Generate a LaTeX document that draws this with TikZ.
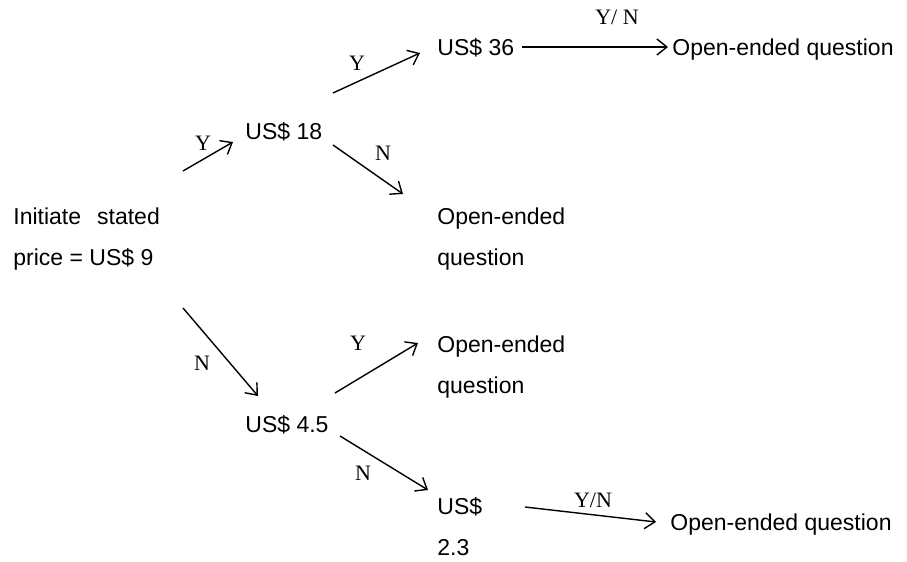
\documentclass[tikz,border=0pt]{standalone}
\usepackage{fontspec}
\setmainfont{Liberation Serif}
\setsansfont{Liberation Sans}
\usetikzlibrary{arrows.meta}

\tikzset{
    price/.style={font=\sffamily\fontsize{11.5}{20.5}\selectfont, inner sep=0pt, anchor=base west, align=left},
    answer/.style={font=\rmfamily\fontsize{11}{13}\selectfont, inner sep=0pt, anchor=base},
    arr/.style={-{Straight Barb[length=5pt,width=8pt]}, line width=0.7pt}
}

\begin{document}
\begin{tikzpicture}[x=0.5pt, y=-0.5pt]
    \useasboundingbox (0,0) rectangle (907,562);

    % Prices and open questions (two-line nodes sit on their last line)
    \node[price] (init) at (13,265) {Initiate\hspace{8pt}stated\\price = US\$ 9};
    \node[price] (us18) at (245,140) {US\$ 18};
    \node[price] (us36) at (437,55) {US\$ 36};
    \node[price] (openA) at (672,55) {Open-ended question};
    \node[price] (openB) at (437,265) {Open-ended\\question};
    \node[price] (us45) at (245,432) {US\$ 4.5};
    \node[price] (openC) at (437,393) {Open-ended\\question};
    \node[price] (us23) at (437,555) {US\$\\2.3};
    \node[price] (openD) at (670,530) {Open-ended question};

    % Arrow ends
    \coordinate (init-y) at (183,171);
    \coordinate (us18-in) at (233,142);
    \coordinate (us18-y) at (333,93);
    \coordinate (us36-in) at (420,53);
    \coordinate (us18-n) at (333,145);
    \coordinate (openB-in) at (403,194);
    \coordinate (us36-out) at (522,47);
    \coordinate (openA-in) at (668,47);
    \coordinate (init-n) at (183,308);
    \coordinate (us45-in) at (258,396);
    \coordinate (us45-y) at (335,393);
    \coordinate (openC-in) at (418,343);
    \coordinate (us45-n) at (340,436);
    \coordinate (us23-in) at (428,490);
    \coordinate (us23-out) at (525,507);
    \coordinate (openD-in) at (656,522);

    % Yes branch
    \draw[arr] (init-y) -- (us18-in);
    \draw[arr] (us18-y) -- (us36-in);
    \draw[arr] (us18-n) -- (openB-in);
    \draw[arr] (us36-out) -- (openA-in);

    % No branch
    \draw[arr] (init-n) -- (us45-in);
    \draw[arr] (us45-y) -- (openC-in);
    \draw[arr] (us45-n) -- (us23-in);
    \draw[arr] (us23-out) -- (openD-in);

    % Answers
    \node[answer] (ans1) at (203,150) {Y};
    \node[answer] (ans2) at (357,70) {Y};
    \node[answer] (ans3) at (383,160) {N};
    \node[answer] (ans4) at (617,25) {Y/ N};
    \node[answer] (ans5) at (202,370) {N};
    \node[answer] (ans6) at (358,350) {Y};
    \node[answer] (ans7) at (363,480) {N};
    \node[answer] (ans8) at (593,507) {Y/N};

\end{tikzpicture}
\end{document}
